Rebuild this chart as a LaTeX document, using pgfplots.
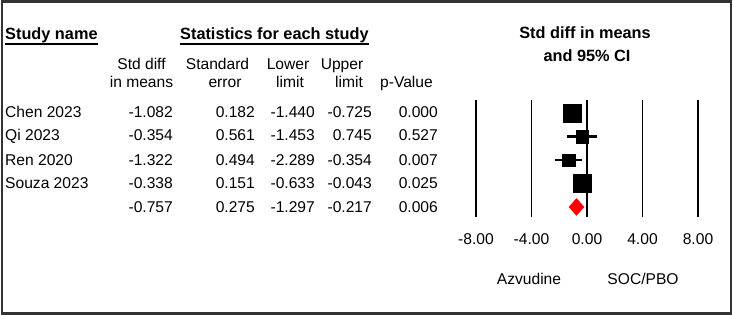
\documentclass[border=0pt]{standalone}
\usepackage{fontspec}
\setmainfont{Liberation Sans}
\usepackage{pgfplots}
\pgfplotsset{compat=1.18}
\newcommand{\fs}{\fontsize{15.6}{18}\selectfont}
\newcommand{\fb}{\fontsize{16.3}{19}\selectfont\bfseries}
\begin{document}
\begin{tikzpicture}[x=1pt,y=-1pt, every node/.style={inner sep=0pt, font=\fs}]
\useasboundingbox (0,0) rectangle (733,315);
\draw[line width=2.6pt, black!80] (2,1.5) rectangle (731,313.5);
% headers
\node[anchor=base west] (sn) at (5,40) {\fb Study name};
\draw[line width=1.3pt] ([yshift=-4pt]sn.base west) -- ([yshift=-4pt]sn.base east);
\node[anchor=base west] (st) at (180,40) {\fb Statistics for each study};
\draw[line width=1.3pt] ([yshift=-4pt]st.base west) -- ([yshift=-4pt]st.base east);
\node[anchor=base] at (141.5,70) {Std diff};
\node[anchor=base] at (141.5,88) {in means};
\node[anchor=base] at (217.5,70) {Standard};
\node[anchor=base] at (225,88) {error};
\node[anchor=base] at (288,70) {Lower};
\node[anchor=base] at (290,88) {limit};
\node[anchor=base] at (342,70) {Upper};
\node[anchor=base] at (349,88) {limit};
\node[anchor=base] at (406.5,88) {p-Value};
\node[anchor=base] at (585,39) {\fb Std diff in means};
\node[anchor=base] at (587,62) {\fb and 95\% CI};
% rows
\foreach \nm/\yy/\a/\b/\c/\d/\e in {
  Chen 2023/117.5/-1.082/0.182/-1.440/-0.725/0.000,
  Qi 2023/141/-0.354/0.561/-1.453/0.745/0.527,
  Ren 2020/165.5/-1.322/0.494/-2.289/-0.354/0.007,
  Souza 2023/189/-0.338/0.151/-0.633/-0.043/0.025,
  {}/212.5/-0.757/0.275/-1.297/-0.217/0.006}{
  \node[anchor=base west] at (5,\yy) {\nm};
  \node[anchor=base east] at (173,\yy) {\a};
  \node[anchor=base east] at (255,\yy) {\b};
  \node[anchor=base east] at (315,\yy) {\c};
  \node[anchor=base east] at (372,\yy) {\d};
  \node[anchor=base east] at (438,\yy) {\e};
}
\node[anchor=base] at (529,284) {Azvudine};
\node[anchor=base] at (643,284) {SOC/PBO};
\begin{axis}[at={(476pt,-217pt)}, anchor=south west, scale only axis,
  width=222pt, height=117pt, xmin=-8, xmax=8, ymin=0.447, ymax=5.426,
  y dir=reverse, axis line style={draw=none}, major tick length=0pt,
  xtick={-8,-4,0,4,8}, xticklabels={-8.00,-4.00,0.00,4.00,8.00}, ytick=\empty,
  xmajorgrids, grid style={black, line width=1.9pt},
  xticklabel style={font=\fs, anchor=base, yshift=-27pt}, clip=false]
\addplot[only marks, mark=square*, mark size=9pt, black,
  error bars/.cd, x dir=both, x explicit, error mark=none,
  error bar style={line width=2.2pt}]
  coordinates {(-1.082,1) +- (0.3575,0)};
\addplot[only marks, mark=square*, mark size=6.25pt, black,
  error bars/.cd, x dir=both, x explicit, error mark=none,
  error bar style={line width=2.2pt}]
  coordinates {(-0.354,2) +- (1.099,0)};
\addplot[only marks, mark=square*, mark size=6.25pt, black,
  error bars/.cd, x dir=both, x explicit, error mark=none,
  error bar style={line width=2.2pt}]
  coordinates {(-1.322,3) +- (0.9675,0)};
\addplot[only marks, mark=square*, mark size=9pt, black,
  error bars/.cd, x dir=both, x explicit, error mark=none,
  error bar style={line width=2.2pt}]
  coordinates {(-0.338,4) +- (0.295,0)};
\addplot[fill=red, draw=red] coordinates {(-1.297,5) (-0.757,4.64) (-0.217,5) (-0.757,5.36)} -- cycle;
\end{axis}
\end{tikzpicture}
\end{document}
